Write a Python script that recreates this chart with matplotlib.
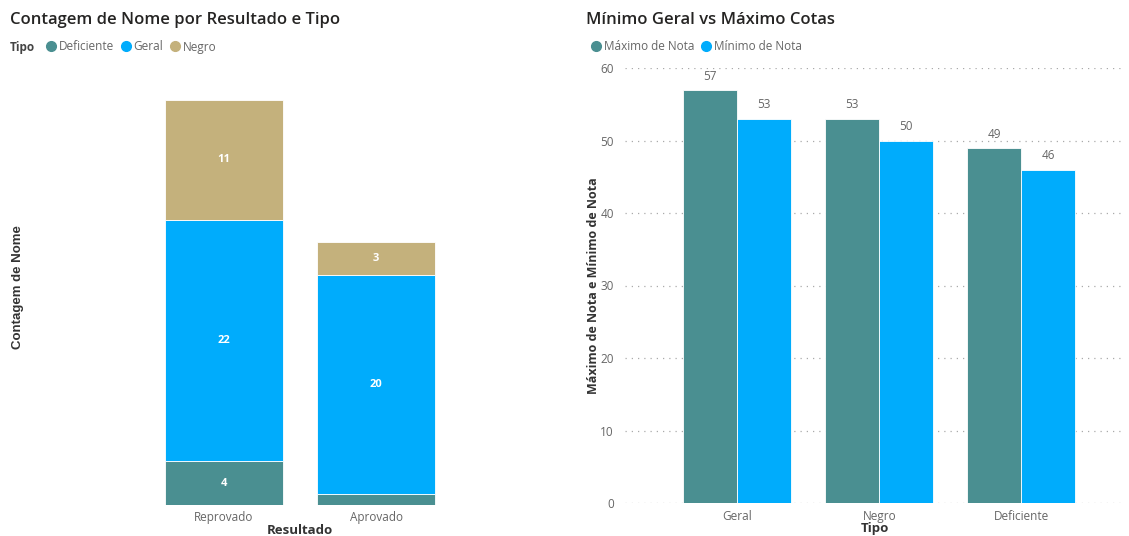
import matplotlib.pyplot as plt
from matplotlib.lines import Line2D
import numpy as np

plt.rcParams['font.family'] = ['Open Sans', 'DejaVu Sans']

# left chart: count of names per result, stacked by type
resultados = ['Reprovado', 'Aprovado']
tipos = ['Deficiente', 'Geral', 'Negro']
contagem = {
    'Deficiente': [4, 1],
    'Geral': [22, 20],
    'Negro': [11, 3],
}

# right chart: max / min grade per type
tipo_cat = ['Geral', 'Negro', 'Deficiente']
maximo_nota = [57, 53, 49]
minimo_nota = [53, 50, 46]

cores = {'Deficiente': '#4a8f91', 'Geral': '#00acfc', 'Negro': '#c4b17c'}
cor_max = '#4a8f91'
cor_min = '#00acfc'
cinza = '#666666'

W, H = 1129, 536
fig = plt.figure(figsize=(W / 100, H / 100), dpi=100)


def px_axes(x0, y0, x1, y1):
    # axes from pixel box (top-left origin)
    return fig.add_axes([x0 / W, 1 - y1 / H, (x1 - x0) / W, (y1 - y0) / H])


# ---------------- left chart ----------------
ax1 = px_axes(40, 70, 560, 505)
x = np.arange(len(resultados))
base = np.zeros(len(resultados))
for t in tipos:
    vals = np.array(contagem[t])
    ax1.bar(x, vals, 0.77, bottom=base, color=cores[t], edgecolor='white', linewidth=0.6)
    for xi, b, v in zip(x, base, vals):
        if v >= 3:
            ax1.text(xi, b + v / 2, str(v), ha='center', va='center',
                     color='white', fontsize=8, fontweight='bold')
    base += vals

ax1.set_xlim(-1.21, 2.21)
ax1.set_ylim(0, 39.7)
ax1.set_yticks([])
ax1.set_xticks(x)
ax1.set_xticklabels(resultados, fontsize=8.5, color=cinza)
ax1.tick_params(axis='x', length=0, pad=4)
for s in ax1.spines.values():
    s.set_visible(False)
ax1.set_xlabel('Resultado', fontsize=9.5, fontweight='bold', color='#333333', labelpad=0)

fig.text(18 / W, 1 - 287 / H, 'Contagem de Nome', rotation=90, ha='center', va='center',
         fontsize=9.5, fontweight='bold', color='#333333', family='Liberation Sans')

fig.text(10 / W, 1 - 20 / H, 'Contagem de Nome por Resultado e Tipo',
         fontsize=12, color='#252423', va='center', fontweight='semibold')
fig.text(10 / W, 1 - 47 / H, 'Tipo', fontsize=8.5, fontweight='bold', color='#444444', va='center')

hand1 = [Line2D([], [], ls='', marker='o', ms=7, color=cores[t]) for t in tipos]
fig.legend(hand1, tipos, loc='center left', bbox_to_anchor=(38 / W, 1 - 47 / H),
           ncol=3, frameon=False, fontsize=8.5, handletextpad=0.05,
           columnspacing=0.4, handlelength=1.2, labelcolor=cinza, borderpad=0)

# ---------------- right chart ----------------
ax2 = px_axes(625, 68, 1125, 503)
xg = np.arange(len(tipo_cat))
w = 0.38
b1 = ax2.bar(xg - w / 2, maximo_nota, w, color=cor_max, edgecolor='white', linewidth=0.6, zorder=3)
b2 = ax2.bar(xg + w / 2, minimo_nota, w, color=cor_min, edgecolor='white', linewidth=0.6, zorder=3)
for bars, vals in ((b1, maximo_nota), (b2, minimo_nota)):
    for r, v in zip(bars, vals):
        ax2.text(r.get_x() + r.get_width() / 2, v + 1.0, str(v), ha='center', va='bottom',
                 fontsize=8.5, color=cinza, clip_on=False)

ax2.set_xlim(-0.79, 2.73)
ax2.set_ylim(0, 60)
ax2.set_yticks(range(0, 61, 10))
ax2.yaxis.grid(True, linestyle=(0, (1, 4)), color='#aaaaaa', linewidth=0.9, zorder=0)
ax2.tick_params(axis='y', length=0, pad=8, labelsize=8.5, labelcolor=cinza)
ax2.set_xticks(xg)
ax2.set_xticklabels(tipo_cat, fontsize=8.5, color=cinza)
ax2.tick_params(axis='x', length=0, pad=5)
for s in ax2.spines.values():
    s.set_visible(False)
ax2.set_xlabel('Tipo', fontsize=9.5, fontweight='bold', color='#333333', labelpad=-1)
ax2.set_ylabel('Máximo de Nota e Mínimo de Nota', fontsize=9, fontweight='bold',
               color='#333333', labelpad=0)

fig.text(586 / W, 1 - 20 / H, 'Mínimo Geral vs Máximo Cotas',
         fontsize=12, color='#252423', va='center', fontweight='semibold')
hand2 = [Line2D([], [], ls='', marker='o', ms=7, color=c) for c in (cor_max, cor_min)]
fig.legend(hand2, ['Máximo de Nota', 'Mínimo de Nota'], loc='center left',
           bbox_to_anchor=(583 / W, 1 - 47 / H), ncol=2, frameon=False, fontsize=8.5,
           handletextpad=0.05, columnspacing=0.4, handlelength=1.2, labelcolor=cinza,
           borderpad=0)

fig.savefig('out.png', dpi=100)
